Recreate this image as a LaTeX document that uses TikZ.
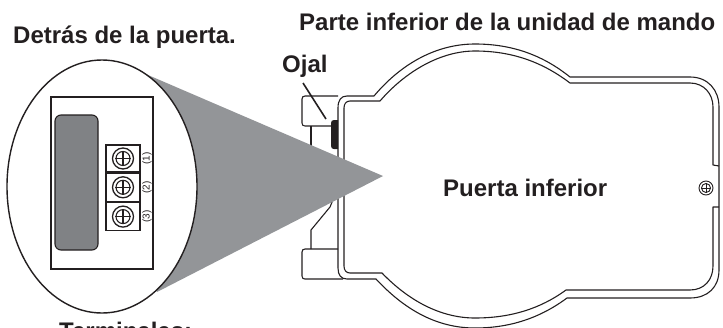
\documentclass[tikz,border=0pt]{standalone}
\usepackage{fontspec}
\setmainfont{Liberation Sans}
\usetikzlibrary{positioning,shapes.geometric}
\definecolor{conegray}{RGB}{147,149,152}
\definecolor{padgray}{RGB}{128,130,133}
\definecolor{inkblack}{RGB}{35,31,32}
\tikzset{
    line/.style    = {draw=inkblack, line width=1.1pt, line join=round},
    thick line/.style = {draw=inkblack, line width=1.6pt},
    caption/.style = {font=\bfseries\fontsize{24}{28}\selectfont, text=inkblack, inner sep=0pt, anchor=base west},
    terminalnum/.style = {font=\fontsize{10}{11}\selectfont, text=inkblack, rotate=90, inner sep=0pt},
    screwbig/.style = {circle, draw=inkblack, line width=1.3pt, minimum size=21pt, inner sep=0pt},
    screwmid/.style = {circle, draw=inkblack, line width=1.1pt, minimum size=14pt, inner sep=0pt},
}
\begin{document}
\begin{tikzpicture}[x=1pt,y=-1pt]
    \clip (0,0) rectangle (723,327);
    % Door, outer outline
    \draw[line]
    (338,108) .. controls (338,100) and (341,96) .. (347,96) -- (374,96)
    .. controls (400,65) and (435,44) .. (475,44)
    .. controls (515,44) and (545,57) .. (570,77)
    -- (690,77) .. controls (708,77) and (719,90) .. (719,107)
    -- (719,270) .. controls (719,287) and (708,298) .. (690,298)
    -- (567,298) .. controls (540,318) and (510,328) .. (475,328)
    .. controls (435,328) and (403,308) .. (376,279)
    -- (347,279) .. controls (341,279) and (338,275) .. (338,268) -- cycle;
    % Door, inner outline
    \draw[line]
    (344,108) .. controls (344,104) and (346,101) .. (350,101) -- (380,101)
    .. controls (405,72) and (440,51) .. (475,51)
    .. controls (515,51) and (545,64) .. (570,83)
    -- (690,83) .. controls (704,83) and (713,94) .. (713,107)
    -- (713,165) -- (719,166);
    \draw[line]
    (719,207) -- (713,207) -- (713,266) .. controls (713,280) and (704,290) .. (690,290)
    -- (566,290) .. controls (540,309) and (510,318) .. (475,318)
    .. controls (440,318) and (408,300) .. (382,273)
    -- (350,273) .. controls (346,273) and (344,270) .. (344,266) -- (344,108);
    % Tabs
    \draw[line] (338,96) -- (305,96) .. controls (303,96) and (302,97) .. (302,99)
    -- (302,123) .. controls (302,125) and (303,126) .. (305,126) -- (331,126);
    \draw[line] (338,249) -- (305,249) .. controls (303,249) and (302,250) .. (302,252)
    -- (302,276) .. controls (302,278) and (303,279) .. (305,279) -- (343,279);
    \draw[line] (311,126) -- (311,150);
    \draw[line] (311,249) -- (311,230) -- (330,207) -- (335,195);
    % Grommet
    \fill[inkblack] (338,120) -- (334,120) .. controls (332,120) and (331,121) .. (331,123)
    -- (331,146) .. controls (331,148) and (332,149) .. (334,149) -- (338,149) -- cycle;
    % Cone
    \fill[conegray] (148,75) -- (383,176) -- (157,292) -- cycle;
    % Detail circle
    \node[draw=inkblack, line width=1.4pt, fill=white, ellipse, minimum width=190pt, minimum height=253pt, inner sep=0pt] (detail) at (102,186.5) {};
    \node[draw=inkblack, line width=1.4pt, minimum width=102pt, minimum height=172pt, inner sep=0pt] (frame) at (102,183) {};
    \node[draw=inkblack, fill=padgray, line width=1.1pt, rounded corners=6pt, minimum width=43pt, minimum height=135pt, inner sep=0pt] (pad) at (76.5,182.5) {};
    \node[draw=inkblack, fill=white, line width=1.3pt, minimum width=34pt, minimum height=27pt, inner sep=0pt] (term1) at (123,158.5) {};
    \node[draw=inkblack, fill=white, line width=1.3pt, minimum width=34pt, minimum height=28pt, inner sep=0pt, below=0pt of term1] (term2) {};
    \node[draw=inkblack, fill=white, line width=1.3pt, minimum width=34pt, minimum height=28pt, inner sep=0pt, below=0pt of term2] (term3) {};
    % Screws
    \foreach \n/\lab in {1/(1),2/(2),3/(3)}{
        \node[screwbig] (screwa\n) at (term\n) {};
        \node[screwmid] (screwb\n) at (term\n) {};
        \draw[line] (screwb\n.north) -- (screwb\n.south);
        \draw[line] (screwb\n.west) -- (screwb\n.east);
        \node[terminalnum] (num\n) at ([xshift=24pt]term\n.center) {\lab};
    }
    % Small screw
    \node[circle, draw=inkblack, line width=.9pt, minimum size=14pt, inner sep=0pt] (doorscrew) at (706,188) {};
    \node[circle, draw=inkblack, line width=.9pt, minimum size=9pt, inner sep=0pt] (doorscrewb) at (706,188) {};
    \draw[draw=inkblack, line width=.8pt] (doorscrewb.north) -- (doorscrewb.south);
    \draw[draw=inkblack, line width=.8pt] (doorscrewb.west) -- (doorscrewb.east);
    % Labels
    \node[caption] (top) at (299,30) {Parte inferior de la unidad de mando};
    \node[caption] (back) at (13,43) {Detrás de la puerta.};
    \node[caption] (grommetlabel) at (282,72) {Ojal};
    \node[caption] (door) at (443,196) {Puerta inferior};
    \node[caption] (termlabel) at (59,339) {Terminales:};
    % Pointer
    \coordinate (grommettip) at (326,119);
    \draw[thick line] (303,83) -- (grommettip);
\end{tikzpicture}
\end{document}
